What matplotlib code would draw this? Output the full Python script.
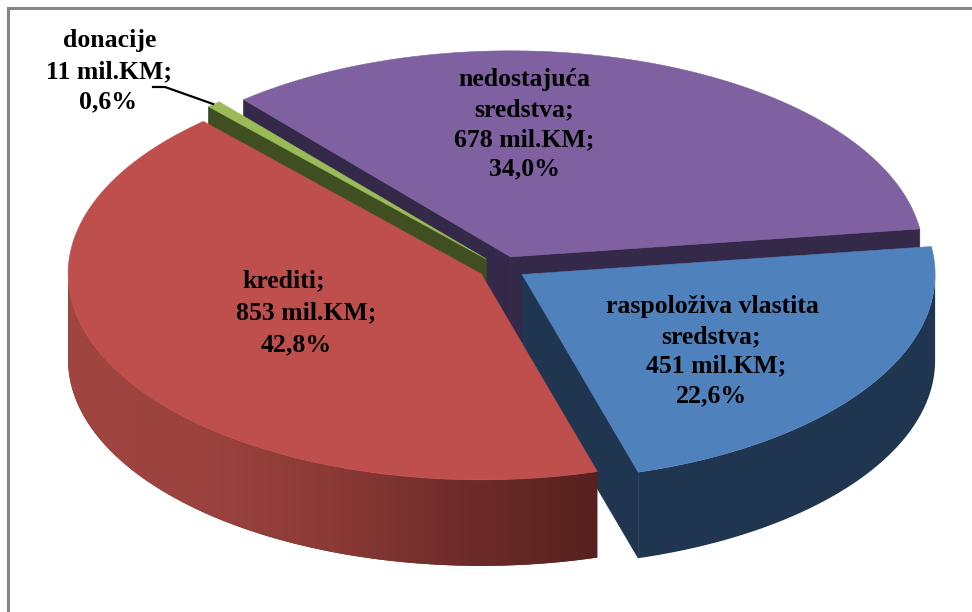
import numpy as np
import matplotlib
matplotlib.use("Agg")
import matplotlib.pyplot as plt
from matplotlib.patches import Polygon

# --- Data ---
names = ["raspoloživa vlastita\nsredstva;", "krediti;", "donacije", "nedostajuća\nsredstva;"]
values = [451, 853, 11, 678]
value_labels = ["451 mil.KM;", "853 mil.KM;", "11 mil.KM;", "678 mil.KM;"]
percents = ["22,6%", "42,8%", "0,6%", "34,0%"]

# --- Pie geometry, in pixels ---
cx, cy = 502, 268
rx, ry = 413, 206
depth = 86
explode = 0.058
start_angle = 7.8  # blue/purple boundary, slices run clockwise

top_colors = ["#4F81BD", "#BE4F4C", "#9BBB59", "#7F60A0"]
wall_colors = ["#1F3550", "#5A2220", "#404F22", "#35294A"]

fig = plt.figure(figsize=(9.72, 6.12), dpi=100)
ax = fig.add_axes([0, 0, 1, 1])
ax.set_xlim(0, 972)
ax.set_ylim(612, 0)
ax.axis("off")

# outer frame, open on the right and at the bottom
ax.plot([8, 8, 972], [612, 8, 8], color="#868686", lw=2.2, solid_joinstyle="miter", zorder=1)


def to_px(angle, ox, oy):
    a = np.radians(angle)
    return ox + rx * np.cos(a), oy - ry * np.sin(a)


# slice angles from the values
sweeps = np.array(values) / sum(values) * 360
ends = start_angle - np.concatenate([[0], np.cumsum(sweeps)])
slices = {}
for i in range(len(values)):
    hi, lo = ends[i], ends[i + 1]
    mid = np.radians((hi + lo) / 2)
    ox = cx + explode * rx * np.cos(mid)
    oy = cy - explode * ry * np.sin(mid)
    slices[i] = (lo, hi, ox, oy)


def draw_slice(i, z):
    lo, hi, ox, oy = slices[i]
    arc = np.linspace(lo, hi, 240)
    ax_, ay_ = to_px(arc, ox, oy)

    # straight side walls, only the ones turned to the viewer show
    for ang, side in ((lo, 1), (hi, -1)):
        if np.sin(np.radians(ang + side * -90)) < 0:
            ex, ey = to_px(ang, ox, oy)
            ax.add_patch(Polygon([(ox, oy), (ex, ey), (ex, ey + depth), (ox, oy + depth)],
                                 fc=wall_colors[i], ec=wall_colors[i], lw=0.5, zorder=z))

    # rim wall on the front half
    a = arc[np.sin(np.radians(arc)) < 0]
    if len(a) > 1:
        wx, wy = to_px(a, ox, oy)
        pts = np.column_stack([np.r_[wx, wx[::-1]], np.r_[wy, wy[::-1] + depth]])
        wall = Polygon(pts, fc=wall_colors[i], ec="none", zorder=z + 0.1)
        ax.add_patch(wall)
        if i == 1:
            # red rim gets a horizontal shade
            stops = np.array([[0.63, 0.27, 0.25], [0.61, 0.26, 0.25], [0.545, 0.227, 0.21],
                              [0.43, 0.17, 0.165], [0.34, 0.13, 0.12]])
            grad = np.array([np.interp(np.linspace(0, 4, 256), np.arange(5), stops[:, c]) for c in range(3)])
            im = ax.imshow(grad.T[None, :, :], extent=[wx.min(), wx.max(), wy.max() + depth, wy.min()],
                           aspect="auto", zorder=z + 0.2)
            im.set_clip_path(wall)

    # top face
    pts = np.vstack([[ox, oy], np.column_stack([ax_, ay_])])
    ax.add_patch(Polygon(pts, fc=top_colors[i], ec=top_colors[i], lw=0.4, zorder=z + 0.5))


# back to front: purple, green, blue, red
for z, i in enumerate([3, 2, 0, 1]):
    draw_slice(i, 2 + z)

ax.set_xlim(0, 972)
ax.set_ylim(612, 0)

# --- Labels ---
font = dict(family="Liberation Serif", fontweight="bold", fontsize=18.5, color="black",
            ha="center", va="center_baseline", zorder=10)
ax.text(712, 304, "raspoloživa vlastita", **font)
ax.text(711, 334, "sredstva;", **font)
ax.text(716, 363.5, value_labels[0], **font)
ax.text(711, 393.5, percents[0], **font)

ax.text(284, 278, names[1], **font)
ax.text(306, 310.5, value_labels[1], **font)
ax.text(296, 342.5, percents[1], **font)

ax.text(110, 37.5, names[2], **font)
ax.text(109, 69, value_labels[2], **font)
ax.text(108, 99.5, percents[2], **font)

ax.text(524, 77, "nedostajuća", **font)
ax.text(524, 107, "sredstva;", **font)
ax.text(524, 137.5, value_labels[3], **font)
ax.text(524, 166.5, percents[3], **font)

# leader line for the small slice
ax.plot([153, 165, 213], [87, 87, 104], color="black", lw=1.6, zorder=10)

fig.savefig("out.png", dpi=100)
